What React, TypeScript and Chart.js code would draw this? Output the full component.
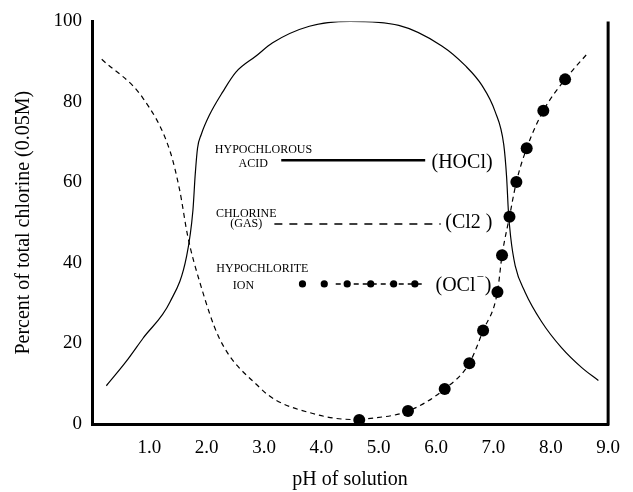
import { useEffect, useRef } from 'react';
import { Chart, registerables } from 'chart.js';

Chart.register(...registerables);

// ---- Axis ticks and titles ----
const xTickValues = [1, 2, 3, 4, 5, 6, 7, 8, 9];
const yTickValues = [0, 20, 40, 60, 80, 100];
const xAxisTitle = 'pH of solution';
const yAxisTitle = 'Percent of total chlorine (0.05M)';

// ---- Hypochlorous acid (HOCl), solid curve ----
const hoclPH = [0.25, 0.6, 0.89, 1.36, 1.65, 1.76, 1.8, 1.84, 1.905, 2.05, 2.28, 2.51, 2.86, 3.15, 3.79, 4.5, 5.35, 6.1, 6.51, 6.8, 7.03, 7.18, 7.23, 7.26, 7.3, 7.38, 7.55, 7.84, 8.19, 8.54, 8.83];
const hoclPct = [9.5, 15.6, 21.3, 30.3, 41.7, 53.1, 62, 68.5, 71.9, 76.8, 82.5, 87.4, 91.4, 94.7, 98.8, 100, 99, 93.9, 89, 84.1, 77.6, 69.4, 61.3, 53.1, 46.5, 39.3, 32.8, 25.4, 18.9, 14, 10.8];

// ---- Chlorine gas (Cl2), dashed curve ----
const cl2PH = [0.17, 0.89, 1.36, 1.53, 1.67, 1.88, 2.22, 2.92, 3.21, 3.85, 4.25, 4.66];
const cl2Pct = [90.6, 80.9, 67.8, 58, 46.6, 35.2, 21.3, 9.1, 5.9, 2.6, 1.4, 1.0];

// ---- Hypochlorite ion (OCl-), measured dots + dashed trend ----
const oclPH = [4.66, 5.51, 6.15, 6.58, 6.82, 7.07, 7.15, 7.28, 7.4, 7.58, 7.87, 8.25];
const oclPct = [1.0, 3.2, 8.7, 15.1, 23.2, 32.8, 41.9, 51.5, 60.1, 68.5, 77.8, 85.6];
const oclTailPH = [8.65];
const oclTailPct = [92.2];

// ---- In-plot legend (names, formulas) ----
const legendNames = [
  ['HYPOCHLOROUS', 'ACID'],
  ['CHLORINE', '(GAS)'],
  ['HYPOCHLORITE', 'ION'],
];
const legendFormulas = ['(HOCl)', '(Cl2 )', '(OCl'];
// legend layout in data units (pH, %)
const legendLayout = [
  { nameX: [2.99, 2.81], nameY: [68.2, 64.7], lineFrom: 3.3, lineTo: 5.81, lineY: 65.5, formX: 5.92, formY: 65.0 },
  { nameX: [2.69, 2.69], nameY: [52.3, 49.7], lineFrom: 3.18, lineTo: 6.08, lineY: 49.7, formX: 6.16, formY: 49.9 },
  { nameX: [2.97, 2.64], nameY: [38.5, 34.4], lineFrom: 4.25, lineTo: 5.81, lineY: 34.8, formX: 5.99, formY: 34.4 },
];
const legendDotsPH = [3.67, 4.05, 4.45, 4.86, 5.26, 5.63];

const FONT = '"Liberation Serif", "Times New Roman", serif';

const toXY = (xs: number[], ys: number[]) => xs.map((x, i) => ({ x, y: ys[i] }));

const inlineLegend = {
  id: 'inlineLegend',
  afterDatasetsDraw(chart: any) {
    const { ctx, scales } = chart;
    const px = (v: number) => scales.x.getPixelForValue(v);
    const py = (v: number) => scales.y.getPixelForValue(v);
    ctx.save();
    ctx.fillStyle = '#000';
    ctx.strokeStyle = '#000';
    ctx.textBaseline = 'middle';

    legendLayout.forEach((L, i) => {
      ctx.font = `12px ${FONT}`;
      ctx.textAlign = 'center';
      legendNames[i].forEach((t, j) => ctx.fillText(t, px(L.nameX[j]), py(L.nameY[j])));

      ctx.beginPath();
      if (i === 0) {
        ctx.lineWidth = 2.5;
        ctx.setLineDash([]);
      } else if (i === 1) {
        ctx.lineWidth = 1.5;
        ctx.setLineDash([8, 7]);
      } else {
        ctx.lineWidth = 1.5;
        ctx.setLineDash([5, 4]);
      }
      ctx.moveTo(px(L.lineFrom), py(L.lineY));
      ctx.lineTo(px(L.lineTo), py(L.lineY));
      ctx.stroke();
      ctx.setLineDash([]);

      if (i === 2) {
        legendDotsPH.forEach((v) => {
          ctx.beginPath();
          ctx.arc(px(v), py(L.lineY), 3.6, 0, Math.PI * 2);
          ctx.fill();
        });
      }

      ctx.font = `20px ${FONT}`;
      ctx.textAlign = 'left';
      const fx = px(L.formX);
      const fy = py(L.formY);
      ctx.fillText(legendFormulas[i], fx, fy);
      if (i === 2) {
        const w = ctx.measureText(legendFormulas[i]).width;
        ctx.font = `13px ${FONT}`;
        ctx.fillText('\u2212', fx + w + 1, fy - 8);
        const w2 = ctx.measureText('\u2212').width;
        ctx.font = `20px ${FONT}`;
        ctx.fillText(')', fx + w + w2 + 2, fy);
      }
    });

    // right frame line
    const a = chart.chartArea;
    ctx.beginPath();
    ctx.lineWidth = 3;
    ctx.moveTo(a.right, a.top);
    ctx.lineTo(a.right, a.bottom + 1.5);
    ctx.stroke();
    ctx.restore();
  },
};

export default function App() {
  const ref = useRef<HTMLCanvasElement>(null);

  useEffect(() => {
    if (!ref.current) return;
    const chart = new Chart(ref.current, {
      type: 'line',
      data: {
        datasets: [
          {
            label: 'HOCl',
            data: toXY(hoclPH, hoclPct),
            borderColor: '#000',
            borderWidth: 1.2,
            pointRadius: 0,
            cubicInterpolationMode: 'monotone',
            fill: false,
          },
          {
            label: 'Cl2',
            data: toXY(cl2PH, cl2Pct),
            borderColor: '#000',
            borderWidth: 1.2,
            borderDash: [5, 4],
            pointRadius: 0,
            cubicInterpolationMode: 'monotone',
            fill: false,
          },
          {
            label: 'OCl- trend',
            data: toXY(oclPH.concat(oclTailPH), oclPct.concat(oclTailPct)),
            borderColor: '#000',
            borderWidth: 1.2,
            borderDash: [5, 4],
            pointRadius: 0,
            cubicInterpolationMode: 'monotone',
            fill: false,
          },
          {
            label: 'OCl-',
            data: toXY(oclPH, oclPct),
            showLine: false,
            pointRadius: 6,
            pointBackgroundColor: '#000',
            pointBorderColor: '#000',
            pointBorderWidth: 0,
            clip: false,
          } as any,
        ],
      },
      options: {
        responsive: false,
        animation: false,
        layout: { autoPadding: false, padding: { top: 15, right: 23, bottom: 0, left: 0 } },
        plugins: { legend: { display: false }, tooltip: { enabled: false } },
        scales: {
          x: {
            type: 'linear',
            min: 0,
            max: 9,
            afterBuildTicks: (s: any) => {
              s.ticks = xTickValues.map((v) => ({ value: v }));
            },
            afterFit: (s: any) => {
              s.height = 68;
            },
            ticks: {
              callback: (v: any) => Number(v).toFixed(1),
              font: { family: FONT, size: 19 },
              color: '#000',
              padding: 13,
              maxRotation: 0,
              autoSkip: false,
            },
            grid: { display: false, drawTicks: false },
            border: { display: true, width: 3, color: '#000' },
            title: {
              display: true,
              text: xAxisTitle,
              font: { family: FONT, size: 20 },
              color: '#000',
              padding: { top: 0, bottom: 0 },
            },
          },
          y: {
            type: 'linear',
            min: 0,
            max: 100,
            afterBuildTicks: (s: any) => {
              s.ticks = yTickValues.map((v) => ({ value: v }));
            },
            afterFit: (s: any) => {
              s.width = 92;
            },
            ticks: {
              font: { family: FONT, size: 19 },
              color: '#000',
              padding: 10,
            },
            grid: { display: false, drawTicks: false },
            border: { display: true, width: 3, color: '#000' },
            title: {
              display: true,
              text: yAxisTitle,
              font: { family: FONT, size: 20 },
              color: '#000',
              padding: { top: 12, bottom: 0 },
            },
          },
        },
      },
      plugins: [inlineLegend],
    } as any);
    return () => chart.destroy();
  }, []);

  return (
    <div style={{ position: 'fixed', left: 0, top: 0, width: 633, height: 492, background: '#fff' }}>
      <canvas ref={ref} width={633} height={492} style={{ display: 'block' }} />
    </div>
  );
}
